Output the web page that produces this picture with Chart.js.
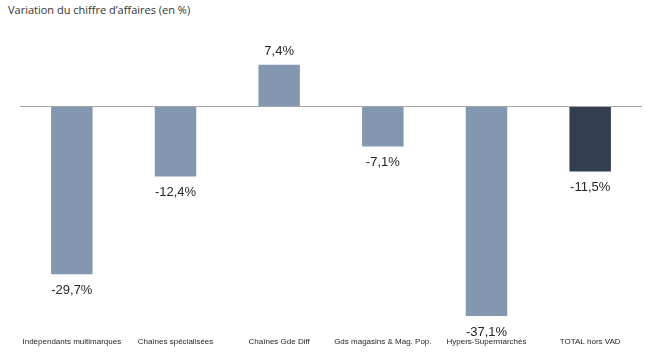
<!DOCTYPE html>
<html>
<head>
<meta charset="utf-8">
<script src="https://cdn.jsdelivr.net/npm/chart.js@4.4.1/dist/chart.umd.min.js"></script>
<style>
html,body{margin:0;padding:0;background:#fff;}
#wrap{position:relative;width:647px;height:357px;}
#title{position:absolute;left:8px;top:2px;font-family:"Open Sans","DejaVu Sans",sans-serif;font-size:11px;color:#333;}
canvas{position:absolute;left:0;top:0;}
</style>
</head>
<body>
<div id="wrap">
<div id="title">Variation du chiffre d’affaires (en %)</div>
<canvas id="c" width="647" height="357"></canvas>
</div>
<script>
const categories = ["Indépendants multimarques","Chaînes spécialisées","Chaînes Gde Diff","Gds magasins & Mag. Pop.","Hypers-Supermarchés","TOTAL hors VAD"];
const values = [-29.7, -12.4, 7.4, -7.1, -37.1, -11.5];
const barColors = ["#8497B0","#8497B0","#8497B0","#8497B0","#8497B0","#333F50"];

const fmt = v => v.toFixed(1).replace('.', ',') + '%';

const labelPlugin = {
  id: 'valueLabels',
  afterDatasetsDraw(chart) {
    const ctx = chart.ctx;
    const meta = chart.getDatasetMeta(0);
    ctx.save();
    ctx.font = '13px "Liberation Sans", Arial, sans-serif';
    ctx.fillStyle = '#262626';
    ctx.textAlign = 'center';
    ctx.textBaseline = 'middle';
    meta.data.forEach((bar, i) => {
      const v = values[i];
      const y = v >= 0 ? bar.y - 13 : bar.y + 16;
      ctx.fillText(fmt(v), bar.x, y);
    });
    ctx.restore();
  }
};

new Chart(document.getElementById('c'), {
  type: 'bar',
  data: {
    labels: categories,
    datasets: [{
      data: values,
      backgroundColor: barColors,
      borderWidth: 0,
      barPercentage: 0.4,
      categoryPercentage: 1.0
    }]
  },
  options: {
    responsive: false,
    animation: false,
    layout: { padding: { top: 50, left: 20, right: 5, bottom: 5 } },
    plugins: { legend: { display: false }, tooltip: { enabled: false } },
    scales: {
      x: {
        grid: { display: false, drawTicks: false },
        border: { display: false },
        ticks: {
          padding: 5,
          maxRotation: 0,
          autoSkip: false,
          color: '#262626',
          font: { family: '"Liberation Sans", Arial, sans-serif', size: 8 }
        }
      },
      y: {
        min: -40,
        max: 10,
        border: { display: false },
        grid: {
          drawTicks: false,
          color: ctx => (ctx.tick && ctx.tick.value === 0) ? '#A6A6A6' : 'rgba(0,0,0,0)',
          lineWidth: 1
        },
        ticks: { display: false, stepSize: 10 }
      }
    }
  },
  plugins: [labelPlugin]
});
</script>
</body>
</html>
